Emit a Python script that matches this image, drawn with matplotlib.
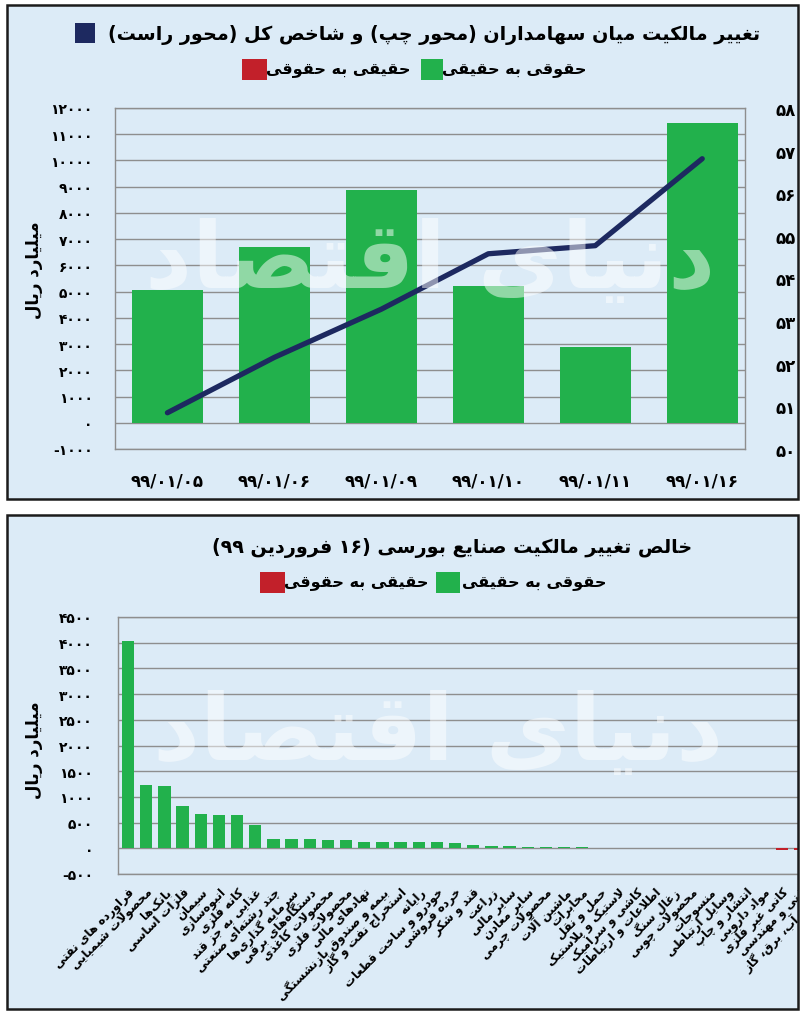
import re
import matplotlib
matplotlib.use("Agg")
import matplotlib.pyplot as plt
from matplotlib.patches import Rectangle

W, H = 811, 1020
BG = "#dcebf7"
GREEN = "#22b14c"
NAVY = "#1d2960"
RED = "#c2202a"
GRID = "#8e8e8e"

# ---- data ----
dates = ["۹۹/۰۱/۰۵", "۹۹/۰۱/۰۶", "۹۹/۰۱/۰۹", "۹۹/۰۱/۱۰", "۹۹/۰۱/۱۱", "۹۹/۰۱/۱۶"]
net_flow = [5050, 6700, 8880, 5200, 2870, 11440]
index_values = [508500, 521500, 532800, 545800, 547700, 568100]

industries = [
    "فراورده های نفتی", "محصولات شیمیایی", "بانک‌ها", "فلزات اساسی", "سیمان",
    "انبوه‌سازی", "کانه فلزی", "غذایی به جز قند", "چند رشته‌ای صنعتی",
    "سرمایه گذاری‌ها", "دستگاه‌های برقی", "محصولات کاغذی", "محصولات فلزی",
    "نهادهای مالی", "بیمه و صندوق بازنشستگی", "استخراج نفت و گاز", "رایانه",
    "خودرو و ساخت قطعات", "خرده فروشی", "قند و شکر", "زراعت", "سایر مالی",
    "سایر معادن", "محصولات چرمی", "ماشین آلات", "مخابرات", "حمل و نقل",
    "لاستیک و پلاستیک", "کاشی و سرامیک", "اطلاعات و ارتباطات", "زغال سنگ",
    "محصولات چوبی", "منسوجات", "وسایل ارتباطی", "انتشار و چاپ", "مواد دارویی",
    "کانی غیر فلزی", "فنی و مهندسی", "عرضه آب، برق، گاز",
]
industry_flow = [4030, 1230, 1210, 820, 660, 650, 645, 445, 188, 175, 172, 158,
                 155, 132, 130, 128, 122, 115, 97, 65, 52, 45, 32, 26, 20, 18,
                 14, 12, 8, 6, 5, 4, 3, 2, 2, 1, -25, -30, -40]

title_top = "تغییر مالکیت میان سهامداران (محور چپ) و شاخص کل (محور راست)"
title_bottom = "خالص تغییر مالکیت صنایع بورسی (۱۶ فروردین ۹۹)"
leg_green = "حقوقی به حقیقی"
leg_red = "حقیقی به حقوقی"
unit = "میلیارد ریال"

# ---- persian text shaping (matplotlib does no shaping / bidi) ----
FORMS = {
    'ء': ('\uFE80', None, None, None),
    'آ': ('\uFE81', '\uFE82', None, None), 'أ': ('\uFE83', '\uFE84', None, None),
    'ؤ': ('\uFE85', '\uFE86', None, None), 'إ': ('\uFE87', '\uFE88', None, None),
    'ئ': ('\uFE89', '\uFE8A', '\uFE8B', '\uFE8C'), 'ا': ('\uFE8D', '\uFE8E', None, None),
    'ب': ('\uFE8F', '\uFE90', '\uFE91', '\uFE92'), 'ة': ('\uFE93', '\uFE94', None, None),
    'ت': ('\uFE95', '\uFE96', '\uFE97', '\uFE98'), 'ث': ('\uFE99', '\uFE9A', '\uFE9B', '\uFE9C'),
    'ج': ('\uFE9D', '\uFE9E', '\uFE9F', '\uFEA0'), 'ح': ('\uFEA1', '\uFEA2', '\uFEA3', '\uFEA4'),
    'خ': ('\uFEA5', '\uFEA6', '\uFEA7', '\uFEA8'), 'د': ('\uFEA9', '\uFEAA', None, None),
    'ذ': ('\uFEAB', '\uFEAC', None, None), 'ر': ('\uFEAD', '\uFEAE', None, None),
    'ز': ('\uFEAF', '\uFEB0', None, None), 'س': ('\uFEB1', '\uFEB2', '\uFEB3', '\uFEB4'),
    'ش': ('\uFEB5', '\uFEB6', '\uFEB7', '\uFEB8'), 'ص': ('\uFEB9', '\uFEBA', '\uFEBB', '\uFEBC'),
    'ض': ('\uFEBD', '\uFEBE', '\uFEBF', '\uFEC0'), 'ط': ('\uFEC1', '\uFEC2', '\uFEC3', '\uFEC4'),
    'ظ': ('\uFEC5', '\uFEC6', '\uFEC7', '\uFEC8'), 'ع': ('\uFEC9', '\uFECA', '\uFECB', '\uFECC'),
    'غ': ('\uFECD', '\uFECE', '\uFECF', '\uFED0'), 'ف': ('\uFED1', '\uFED2', '\uFED3', '\uFED4'),
    'ق': ('\uFED5', '\uFED6', '\uFED7', '\uFED8'), 'ك': ('\uFED9', '\uFEDA', '\uFEDB', '\uFEDC'),
    'ل': ('\uFEDD', '\uFEDE', '\uFEDF', '\uFEE0'), 'م': ('\uFEE1', '\uFEE2', '\uFEE3', '\uFEE4'),
    'ن': ('\uFEE5', '\uFEE6', '\uFEE7', '\uFEE8'), 'ه': ('\uFEE9', '\uFEEA', '\uFEEB', '\uFEEC'),
    'و': ('\uFEED', '\uFEEE', None, None), 'ى': ('\uFEEF', '\uFEF0', None, None),
    'ي': ('\uFEF1', '\uFEF2', '\uFEF3', '\uFEF4'),
    'پ': ('\uFB56', '\uFB57', '\uFB58', '\uFB59'), 'چ': ('\uFB7A', '\uFB7B', '\uFB7C', '\uFB7D'),
    'ژ': ('\uFB8A', '\uFB8B', None, None), 'ک': ('\uFB8E', '\uFB8F', '\uFB90', '\uFB91'),
    'گ': ('\uFB92', '\uFB93', '\uFB94', '\uFB95'), 'ی': ('\uFBFC', '\uFBFD', '\uFBFE', '\uFBFF'),
}
LAM_ALEF = {'ا': ('\uFEFB', '\uFEFC'), 'آ': ('\uFEF5', '\uFEF6'),
            'أ': ('\uFEF7', '\uFEF8'), 'إ': ('\uFEF9', '\uFEFA')}
MIRROR = {'(': ')', ')': '('}
DIGITS = str.maketrans("0123456789", "۰۱۲۳۴۵۶۷۸۹")


def shape(s):
    out = []
    i = 0
    while i < len(s):
        c = s[i]
        prev = s[i - 1] if i > 0 else ''
        nxt = s[i + 1] if i + 1 < len(s) else ''
        if c not in FORMS:
            if c != '\u200c':
                out.append(c)
            i += 1
            continue
        p = prev in FORMS and FORMS[prev][2] is not None
        if c == 'ل' and nxt in LAM_ALEF:
            out.append(LAM_ALEF[nxt][1 if p else 0])
            i += 2
            continue
        n = FORMS[c][2] is not None and nxt in FORMS and FORMS[nxt][1] is not None
        iso, fin, ini, med = FORMS[c]
        out.append(med if p and n else fin if p else ini if n else iso)
        i += 1
    return ''.join(out)


def fa(s):
    lines = []
    for line in s.split('\n'):
        units = re.findall(r'[0-9۰-۹]+(?:[/.][0-9۰-۹]+)*|.', shape(line))
        lines.append(''.join(MIRROR.get(u, u) for u in reversed(units)))
    return '\n'.join(lines)


def fa_num(v):
    return str(v).translate(DIGITS)


def fx(x):
    return x / W


def fy(y):
    return 1 - y / H


plt.rcParams['font.family'] = ['DejaVu Sans']
plt.rcParams['font.weight'] = 'bold'

fig = plt.figure(figsize=(W / 100, H / 100), dpi=100)

# panels
for top, bot in [(6, 500), (516, 1010)]:
    fig.add_artist(Rectangle((fx(7), fy(bot)), fx(798) - fx(7), (bot - top) / H,
                             transform=fig.transFigure, facecolor=BG,
                             edgecolor='none', zorder=-5))
    fig.add_artist(Rectangle((fx(7), fy(bot)), fx(798) - fx(7), (bot - top) / H,
                             transform=fig.transFigure, fill=False,
                             edgecolor='#1b1b1b', lw=1.8, zorder=30))
# the source picture is cut on the right
fig.add_artist(Rectangle((fx(799), 0), 1 - fx(799), 1, transform=fig.transFigure,
                         facecolor='white', edgecolor='none', zorder=25))


def square(x0, x1, y0, y1, color):
    fig.add_artist(Rectangle((fx(x0), fy(y1)), fx(x1) - fx(x0), (y1 - y0) / H,
                             transform=fig.transFigure, facecolor=color,
                             edgecolor='none', zorder=5))


def style_axes(ax):
    ax.set_facecolor('none')
    ax.grid(axis='y', color=GRID, lw=1)
    ax.set_axisbelow(True)
    for sp in ax.spines.values():
        sp.set_color(GRID)
        sp.set_linewidth(1)
    ax.tick_params(length=0)


# ---- top chart ----
fig.text(fx(760), fy(35), fa(title_top), ha='right', va='center', fontsize=13.8)
square(75, 95, 24, 44, NAVY)
fig.text(fx(586), fy(70), fa(leg_green), ha='right', va='center', fontsize=11.5)
square(421, 443, 60, 81, GREEN)
fig.text(fx(410), fy(70), fa(leg_red), ha='right', va='center', fontsize=11.5)
square(242, 267, 60, 81, RED)

ax1 = fig.add_axes([fx(115), fy(450), fx(745) - fx(115), (450 - 109) / H])
style_axes(ax1)
x = list(range(len(dates)))
ax1.bar(x, net_flow, width=0.66, color=GREEN, zorder=2)
ax1.set_xlim(-0.49, 5.40)
ax1.set_ylim(-1000, 12000)
yt = list(range(-1000, 12001, 1000))
ax1.set_yticks(yt)
ax1.set_yticklabels([fa_num(v) for v in yt], fontsize=10)
ax1.set_xticks(x)
ax1.set_xticklabels(dates, fontsize=12)
ax1.tick_params(axis='y', pad=16)
ax1.tick_params(axis='x', pad=16)

ax2 = ax1.twinx()
ax2.plot(x, index_values, color=NAVY, lw=3.8, solid_capstyle='round', zorder=3)
ax2.set_ylim(500000, 580000)
rt = list(range(500000, 580001, 10000))
ax2.set_yticks(rt)
ax2.set_yticklabels([fa_num(v) for v in rt], fontsize=12)
ax2.tick_params(length=0, pad=22)
for sp in ax2.spines.values():
    sp.set_visible(False)
ax2.text(0.5, 0.55, fa("دنیای اقتصاد"), transform=ax2.transAxes, fontsize=66,
         color='white', alpha=0.5, ha='center', va='center', zorder=6, clip_on=True)
fig.text(fx(34), fy(270), fa(unit), rotation=90, ha='center', va='center', fontsize=12)

# ---- bottom chart ----
fig.text(fx(692), fy(548), fa(title_bottom), ha='right', va='center', fontsize=13.8)
fig.text(fx(607), fy(584), fa(leg_green), ha='right', va='center', fontsize=11.5)
square(436, 460, 573, 594, GREEN)
fig.text(fx(429), fy(584), fa(leg_red), ha='right', va='center', fontsize=11.5)
square(260, 285, 573, 594, RED)

ax3 = fig.add_axes([fx(118), fy(875), (829.4 - 118) / W, (875 - 618) / H])
style_axes(ax3)
ax3.spines['right'].set_visible(False)
xi = list(range(len(industries)))
colors = [GREEN if v >= 0 else RED for v in industry_flow]
ax3.bar(xi, industry_flow, width=0.68, color=colors, zorder=2)
ax3.set_xlim(-0.55, 38.6)
ax3.set_ylim(-500, 4500)
yt3 = list(range(-500, 4501, 500))
ax3.set_yticks(yt3)
ax3.set_yticklabels([fa_num(v) for v in yt3], fontsize=10)
ax3.tick_params(axis='y', pad=18)
ax3.set_xticks(xi)
ax3.set_xticklabels([fa(s) for s in industries], rotation=45, ha='right',
                    va='top', rotation_mode='anchor', fontsize=8.5)
ax3.tick_params(axis='x', pad=8)
ax3.text(0.45, 0.55, fa("دنیای اقتصاد"), transform=ax3.transAxes, fontsize=66,
         color='white', alpha=0.5, ha='center', va='center', zorder=6, clip_on=True)
fig.text(fx(34), fy(750), fa(unit), rotation=90, ha='center', va='center', fontsize=12)

fig.savefig("out.png", dpi=100)
